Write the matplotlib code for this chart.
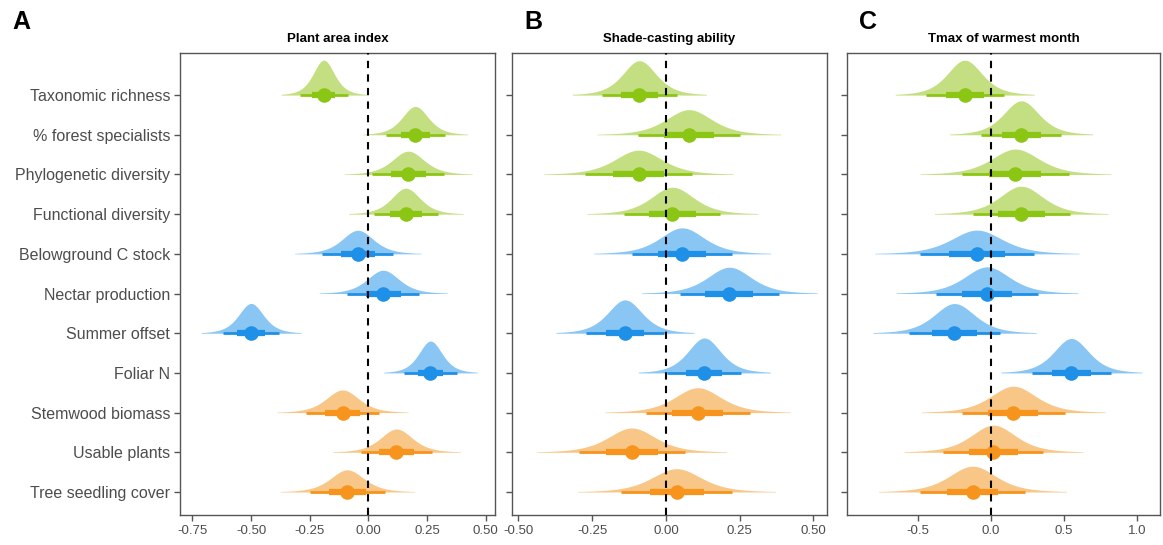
import numpy as np
import matplotlib.pyplot as plt

plt.rcParams['font.family'] = ['Liberation Sans', 'DejaVu Sans']

categories = ['Taxonomic richness', '% forest specialists', 'Phylogenetic diversity',
              'Functional diversity', 'Belowground C stock', 'Nectar production',
              'Summer offset', 'Foliar N', 'Stemwood biomass', 'Usable plants',
              'Tree seedling cover']
groups = ['div', 'div', 'div', 'div', 'fun', 'fun', 'fun', 'fun', 'eco', 'eco', 'eco']

titles = ['Plant area index', 'Shade-casting ability', 'Tmax of warmest month']
letters = ['A', 'B', 'C']

# posterior medians and spread
median_a = [-0.19, 0.20, 0.17, 0.16, -0.045, 0.063, -0.50, 0.265, -0.11, 0.12, -0.09]
sd_a = [0.052, 0.064, 0.078, 0.070, 0.077, 0.078, 0.061, 0.057, 0.080, 0.078, 0.082]
median_b = [-0.09, 0.078, -0.093, 0.022, 0.055, 0.215, -0.139, 0.13, 0.108, -0.116, 0.036]
sd_b = [0.065, 0.089, 0.092, 0.083, 0.086, 0.085, 0.067, 0.064, 0.090, 0.092, 0.096]
median_c = [-0.18, 0.207, 0.167, 0.207, -0.097, -0.027, -0.25, 0.55, 0.153, 0.016, -0.126]
sd_c = [0.136, 0.140, 0.187, 0.170, 0.200, 0.178, 0.160, 0.138, 0.180, 0.175, 0.184]

xticks_a = [-0.75, -0.50, -0.25, 0.00, 0.25, 0.50]
xticks_b = [-0.50, -0.25, 0.00, 0.25, 0.50]
xticks_c = [-0.5, 0.0, 0.5, 1.0]

slab_col = {'div': '#c4de82', 'fun': '#8ac6f4', 'eco': '#f8c787'}
point_col = {'div': '#8cc614', 'fun': '#1e90e8', 'eco': '#f7941d'}

panels = [
    (median_a, sd_a, xticks_a, ['-0.75', '-0.50', '-0.25', '0.00', '0.25', '0.50'], (-0.803, 0.54)),
    (median_b, sd_b, xticks_b, ['-0.50', '-0.25', '0.00', '0.25', '0.50'], (-0.522, 0.546)),
    (median_c, sd_c, xticks_c, ['-0.5', '0.0', '0.5', '1.0'], (-0.986, 1.157)),
]

fig = plt.figure(figsize=(11.63, 5.45), dpi=100)
lefts = [180, 512, 847]
widths = [315, 315, 313]
bottom = 1 - 515 / 545
height = (515 - 53) / 545

n = len(categories)
ypos = np.arange(n)[::-1]
nu = 4.0  # heavier tails, like the posterior draws

for k, (med, sd, ticks, tlabels, xlim) in enumerate(panels):
    ax = fig.add_axes([lefts[k] / 1163, bottom, widths[k] / 1163, height])
    med = np.array(med)
    sd = np.array(sd)
    s_all = 0.92 * sd
    scale = 0.88 * s_all.min()
    for i in range(n):
        g = groups[i]
        y0 = ypos[i]
        s = s_all[i]
        xs = np.linspace(med[i] - 3.8 * s, med[i] + 3.8 * s, 300)
        dens = (1 + ((xs - med[i]) / s) ** 2 / nu) ** (-(nu + 1) / 2) / s
        ax.fill_between(xs, y0, y0 + dens * scale, color=slab_col[g], lw=0, zorder=2)
        ax.plot([med[i] - 1.96 * sd[i], med[i] + 1.96 * sd[i]], [y0, y0],
                color=point_col[g], lw=2, solid_capstyle='butt', zorder=3)
        ax.plot([med[i] - 0.954 * sd[i], med[i] + 0.954 * sd[i]], [y0, y0],
                color=point_col[g], lw=4.5, solid_capstyle='butt', zorder=3)
        ax.plot(med[i], y0, 'o', color=point_col[g], ms=10.5, mec='none', zorder=4)
    ax.axvline(0, color='black', ls=(0, (3.5, 3)), lw=1.5, zorder=5)
    ax.set_xlim(xlim)
    ax.set_ylim(-0.58, n - 1 + 1.06)
    ax.set_xticks(ticks)
    ax.set_xticklabels(tlabels, fontsize=9.5, color='#4d4d4d')
    ax.set_yticks(ypos)
    if k == 0:
        ax.set_yticklabels(categories, fontsize=11.5, color='#4d4d4d')
    else:
        ax.set_yticklabels([])
    ax.tick_params(length=4, width=1, color='#555555', pad=3)
    for sp in ax.spines.values():
        sp.set_color('#555555')
        sp.set_linewidth(1)
    ax.set_title(titles[k], fontsize=9.5, fontweight='bold', pad=8)
    fig.text((lefts[k] - 168 if k == 0 else lefts[k] + 12) / 1163, 1 - 22 / 545, letters[k],
             fontsize=18, fontweight='bold', va='center', ha='left')

fig.savefig('out.png', dpi=100)
